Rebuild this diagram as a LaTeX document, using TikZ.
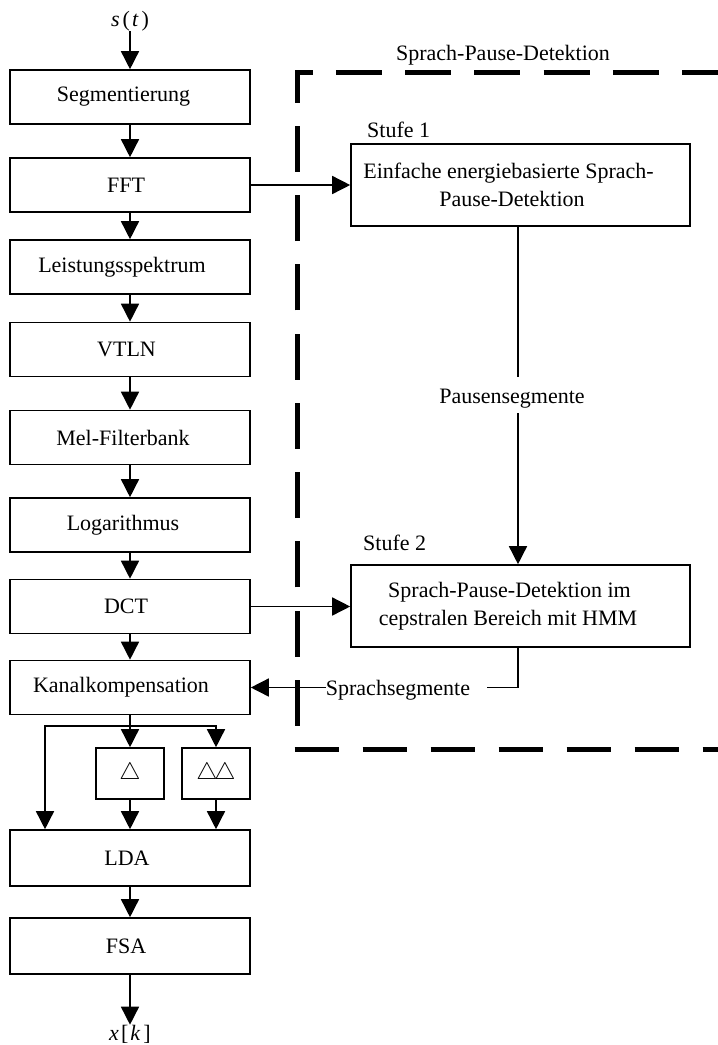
\documentclass[tikz,border=0pt]{standalone}
\usepackage{fontspec}
\usepackage{graphicx}
\setmainfont{Liberation Serif}
\usetikzlibrary{arrows.meta,calc}
\begin{document}
\begin{tikzpicture}[x=1pt,y=-1pt,
  txt/.style={font=\fontsize{22}{28}\selectfont, inner sep=0pt},
  box/.style={draw, line width=1.6pt, minimum width=240pt, minimum height=54pt, txt},
  rbox/.style={draw, line width=1.6pt, minimum width=339pt, minimum height=82pt, txt, align=center},
  dbox/.style={draw, line width=1.6pt, minimum width=68pt, minimum height=51pt, txt},
  arr/.style={line width=1.5pt, -{Triangle[length=18pt,width=18pt]}},
  ln/.style={line width=1.5pt},
  bd/.style={line width=5pt}]
\useasboundingbox (0,0) rectangle (718,1045);

% left column
\node[txt] (st) at (130,21) {\textit{s}\kern3pt(\kern2pt\textit{t}\kern3pt)};
\node[box] (seg) at (130,97) {Segmentierung\kern13pt};
\node[box] (fft) at (130,185) {FFT\kern8pt};
\node[box] (leis) at (130,267) {Leistungsspektrum\kern16pt};
\node[box] (vtln) at (130,349.5) {VTLN\kern7pt};
\node[box] (mel) at (130,437.5) {Mel-Filterbank\kern14pt};
\node[box] (log) at (130,525) {Logarithmus\kern14pt};
\node[box] (dct) at (130,606.5) {DCT\kern8pt};
\node[box] (kan) at (130,687.5) {Kanalkompensation\kern18pt};
\node[dbox] (d1) at (130,773.5) {\raisebox{-12pt}{\smash{\scalebox{1.15}{$\triangle$}}}};
\node[dbox] (d2) at (216,773.5) {\raisebox{-12pt}{\smash{\scalebox{1.15}{$\triangle\mkern-2.5mu\triangle$}}}};
\node[box, minimum height=56pt] (lda) at (130,858) {LDA\kern6pt};
\node[box, minimum height=56pt] (fsa) at (130,946) {FSA\kern8pt};
\node[txt] (xk) at (130,1034) {\textit{x}\kern2pt[\kern2pt\textit{k}\kern3pt]};

\draw[arr] (st) -- (seg);
\draw[arr] (seg) -- (fft);
\draw[arr] (fft) -- (leis);
\draw[arr] (leis) -- (vtln);
\draw[arr] (vtln) -- (mel);
\draw[arr] (mel) -- (log);
\draw[arr] (log) -- (dct);
\draw[arr] (dct) -- (kan);

\coordinate (br) at (130,726);
\coordinate (lx) at (45,726);
\coordinate (rx) at (216,726);
\draw[ln] (kan.south) -- (br);
\draw[arr] (br) -- (d1.north);
\draw[arr] (br) -- (rx) -- (d2.north);
\draw[arr] (br) -- (lx) -- (lx |- lda.north);
\draw[arr] (d1.south) -- (d1.south |- lda.north);
\draw[arr] (d2.south) -- (d2.south |- lda.north);
\draw[arr] (lda) -- (fsa);
\draw[arr] (fsa.south) -- (xk.north);

% dashed region
\draw[bd, dash pattern=on 46pt off 23.25pt, dash phase=46pt] (297,749) -- (297,72) -- (740,72);
\draw[bd, dash pattern=on 44pt off 24pt] (294.5,749) -- (740,749);
\node[txt] (title) at (503,55) {Sprach-Pause-Detektion};

% right boxes
\node[txt, anchor=west] (st1) at (367,129.5) {Stufe 1};
\node[rbox] (s1) at (520.5,185) {Einfache energiebasierte Sprach-\kern24pt\\Pause-Detektion\kern17pt};
\node[txt, anchor=west] (st2) at (363,543) {Stufe 2};
\node[rbox] (s2) at (520.5,606) {Sprach-Pause-Detektion im\kern22pt\\cepstralen Bereich mit HMM\kern25pt};

\draw[arr] (fft.east) -- (s1.west);
\draw[arr] (dct.east) -- (dct.east -| s2.west);

\coordinate (pv) at (518,0);
\coordinate (pa) at (518,377);
\coordinate (pb) at (518,413);
\node[txt] (pl) at (512,399) {Pausensegmente};
\draw[ln] (s1.south -| pv) -- (pa);
\draw[arr] (pb) -- (pb |- s2.north);

\coordinate (sr) at (487,687.5);
\node[txt] (sl) at (398,690) {Sprachsegmente};
\draw[ln] (s2.south -| pv) |- (sr);
\draw[arr] (sl.west |- kan.east) -- (kan.east);
\end{tikzpicture}
\end{document}
